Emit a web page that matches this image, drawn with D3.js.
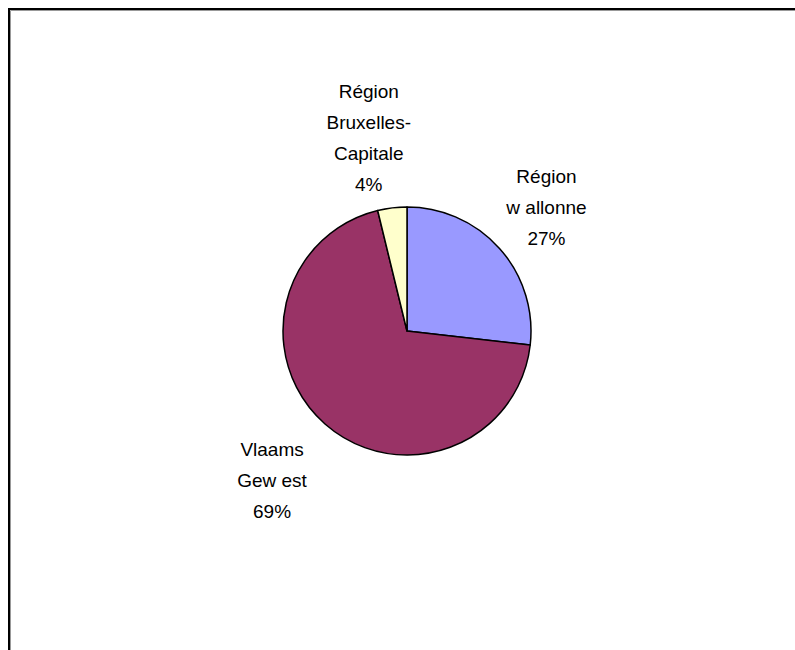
<!DOCTYPE html>
<html><head><meta charset="utf-8">
<script src="https://cdn.jsdelivr.net/npm/d3@7"></script>
<style>body{margin:0;background:#fff;} svg{display:block;}</style>
</head><body>
<svg id="c" width="795" height="650"></svg>
<script>
const categories = ["Région w allonne", "Vlaams Gewest", "Région Bruxelles-Capitale"];
const labelLines = [["Région", "w allonne"], ["Vlaams", "Gew est"], ["Région", "Bruxelles-", "Capitale"]];
const values = [26.8, 69.4, 3.8];
const colors = ["#9999FF", "#993366", "#FFFFCC"];

const svg = d3.select("#c");
// frame
svg.append("rect").attr("x", 9).attr("y", 9).attr("width", 900).attr("height", 900)
  .attr("fill", "none").attr("stroke", "#000").attr("stroke-width", 2);
svg.append("line").attr("x1", 10.5).attr("x2", 900).attr("y1", 10.5).attr("y2", 10.5).attr("stroke", "#999").attr("stroke-width", 1);
svg.append("line").attr("x1", 10.5).attr("x2", 10.5).attr("y1", 10.5).attr("y2", 900).attr("stroke", "#999").attr("stroke-width", 1);

const cx = 407, cy = 331, r = 124;
const pie = d3.pie().sort(null).value(d => d);
const arcs = pie(values);
const arc = d3.arc().innerRadius(0).outerRadius(r);
const g = svg.append("g").attr("transform", `translate(${cx},${cy})`);
g.selectAll("path").data(arcs).enter().append("path")
  .attr("d", arc).attr("fill", (d, i) => colors[i])
  .attr("stroke", "#000").attr("stroke-width", 1.5).attr("stroke-linejoin", "round");

const labelArc = d3.arc().innerRadius(195).outerRadius(195);
const nudge = [[-6, 6], [-6, 3], [-15, 0]];
const lh = 31, fs = 19;
arcs.forEach((d, i) => {
  const [x, y] = labelArc.centroid(d);
  const lines = labelLines[i].concat([Math.round(values[i]) + "%"]);
  const t = g.append("text").attr("text-anchor", "middle")
    .attr("font-family", "'Liberation Sans', Arial, sans-serif").attr("font-size", fs).attr("fill", "#000");
  const y0 = y + nudge[i][1] - (lines.length - 1) * lh / 2 + fs * 0.35;
  lines.forEach((L, k) => {
    t.append("tspan").attr("x", x + nudge[i][0]).attr("y", y0 + k * lh).text(L);
  });
});
</script>
</body></html>
